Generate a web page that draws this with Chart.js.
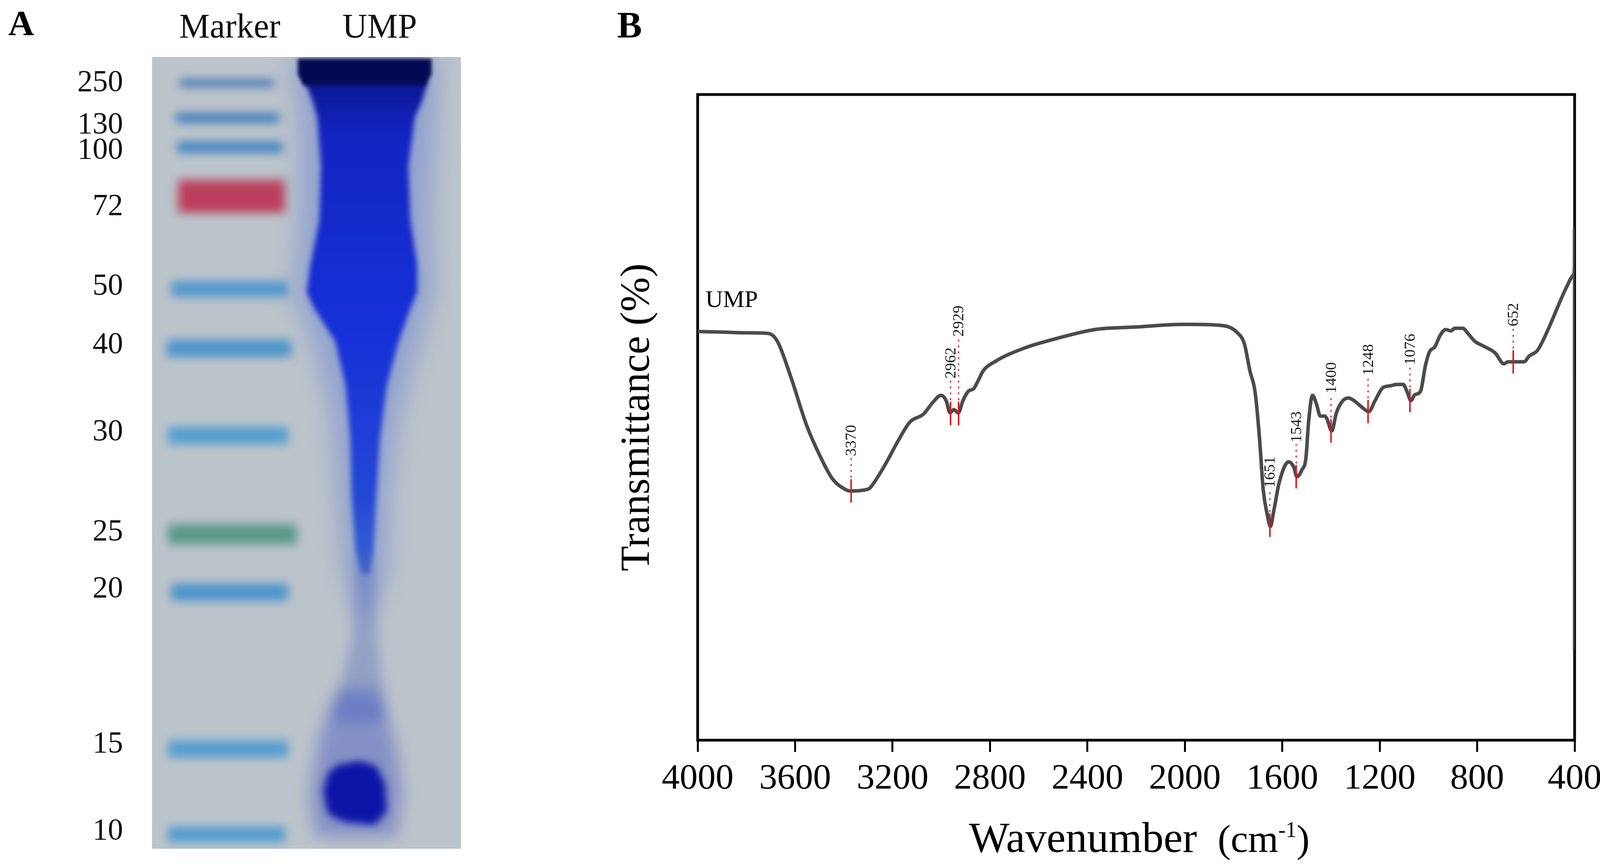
<!DOCTYPE html>
<html lang="en">
<head>
  <meta charset="UTF-8">
  <title>UMP - SDS-PAGE and FT-IR</title>
  <script src="https://cdn.jsdelivr.net/npm/chart.js@4.4.1/dist/chart.umd.min.js"></script>
  <style>
    html, body { margin: 0; padding: 0; background: #fff; }
    body { width: 4118px; height: 2212px; position: relative; overflow: hidden; }
    #gelBox { position: absolute; left: 0; top: 0; width: 1300px; height: 2212px; }
    #irBox { position: absolute; left: 1500px; top: 0; width: 2618px; height: 2212px; }
  </style>
</head>
<body>
  <div id="gelBox"><canvas id="gel"></canvas></div>
  <div id="irBox"><canvas id="ir"></canvas></div>

  <script>
    // ---- panel A: gel (x = lane position 0..100, y = migration 0..100 from the well) ----
    const laneLabels = ['Marker', 'UMP'];
    const laneCentres = [25.2, 73.7];
    const markerKDa = ['250', '130', '100', '72', '50', '40', '30', '25', '20', '15', '10'];
    const tickMigration = [3.3, 8.6, 11.8, 18.9, 29.0, 36.4, 47.4, 60.0, 67.2, 86.8, 97.8];
    const bandMigration = [3.3, 7.7, 11.4, 17.6, 29.3, 36.8, 47.8, 60.3, 67.6, 87.4, 98.2];
    const bandLeft = [9.0, 7.7, 8.2, 8.5, 6.2, 4.8, 5.2, 5.2, 6.2, 5.2, 5.2];
    const bandRight = [39.3, 41.2, 42.2, 43.0, 44.1, 45.1, 44.1, 46.9, 44.1, 44.1, 43.1];

    // UMP lane outlines, [lane position, migration]
    const umpHalo = [[45, 0], [93, 0], [92, 8], [90, 20], [91, 30], [86, 37], [80, 45], [77, 55], [76, 65],
      [72, 70], [66, 70], [62, 65], [60, 55], [58, 45], [53, 37], [46, 30], [48, 20], [48, 8]];
    const umpSmear = [[49.4, 3.0], [52.0, 5.6], [53.5, 7.6], [54.7, 13.7], [54.2, 20.6], [51.3, 26.2], [50.1, 29.7],
      [52.6, 31.8], [59.3, 35.9], [62.7, 41.5], [64.3, 48.4], [64.6, 55.4], [65.9, 62.4], [67.8, 65.3],
      [70.3, 65.3], [71.7, 62.4], [72.6, 55.4], [73.7, 48.4], [76.0, 41.5], [79.8, 35.9], [83.6, 31.8],
      [85.8, 29.7], [85.8, 26.2], [83.6, 20.6], [83.0, 13.7], [85.1, 7.6], [87.4, 5.6], [89.3, 3.0]];
    const umpWell = [[47.2, 0.2], [90.5, 0.2], [90.5, 2.2], [88.5, 3.6], [49.0, 3.6], [47.2, 2.2]];
    const umpTrail = [[66.5, 63], [71.5, 63], [73, 74], [76, 84], [58, 84], [64.5, 74]];
    const umpBlobHalo = [[60, 80], [73, 80], [79, 87], [81, 93], [79, 98.5], [53, 98.5], [51, 93], [54, 86]];
    const umpBlob = [[60, 89.4], [67, 88.9], [72.5, 89.5], [75.5, 91.8], [76, 95.3], [72, 97.0], [62, 96.6],
      [57, 95.6], [55.4, 92.8], [57, 90.4]];

    // ---- panel B: FT-IR spectrum ----
    const sampleName = 'UMP';
    const xTickValues = [4000, 3600, 3200, 2800, 2400, 2000, 1600, 1200, 800, 400];
    const irWavenumber = [4000, 3897, 3800, 3711, 3673, 3618, 3553, 3500, 3447, 3392, 3373, 3299, 3274, 3221,
      3181, 3128, 3073, 3035, 3001, 2980, 2964, 2948, 2930, 2911, 2887, 2868, 2847, 2828, 2781, 2661, 2528,
      2369, 2196, 2010, 1973, 1842, 1787, 1755, 1733, 1712, 1694, 1678, 1662, 1649, 1635, 1612, 1574, 1553,
      1540, 1519, 1503, 1492, 1476, 1460, 1444, 1426, 1417, 1397, 1378, 1351, 1328, 1306, 1274, 1245, 1219,
      1187, 1154, 1131, 1104, 1088, 1072, 1056, 1033, 1012, 995, 974, 952, 929, 908, 892, 859, 838, 810, 772,
      727, 690, 673, 645, 608, 586, 552, 509, 466, 434, 405, 400.5, 400.2, 400];
    const irTransmittance = [63.3, 63.2, 63.1, 63.0, 61.8, 56.3, 48.8, 44.2, 40.5, 38.8, 38.6, 38.9, 40.0, 43.3,
      46.1, 49.3, 50.5, 52.3, 53.4, 52.6, 50.7, 51.2, 50.7, 52.6, 54.1, 54.4, 55.8, 57.2, 58.6, 60.7, 62.2,
      63.6, 64.0, 64.4, 64.4, 64.2, 63.2, 61.3, 57.2, 54.0, 47.0, 38.7, 35.0, 33.1, 35.5, 40.0, 43.1, 42.3,
      40.8, 41.9, 43.7, 49.3, 53.4, 52.1, 50.2, 50.2, 49.8, 47.9, 50.7, 52.6, 53.0, 52.6, 51.6, 50.9, 52.6,
      54.6, 54.9, 55.1, 55.1, 54.0, 52.6, 53.5, 54.0, 58.1, 60.2, 60.9, 62.7, 63.6, 63.4, 63.8, 63.8, 63.0,
      61.8, 61.0, 60.0, 58.3, 58.6, 58.6, 58.6, 59.5, 60.4, 63.6, 67.4, 70.1, 72.0, 73.4, 79.1, 14.1];
    const peakWavenumber = [3370, 2962, 2929, 1651, 1543, 1400, 1248, 1076, 652];
    const peakTransmittance = [38.6, 50.6, 50.6, 33.3, 40.8, 47.9, 50.9, 52.6, 58.6];
    const peakLabelLevel = [44.0, 56.0, 62.5, 39.1, 46.1, 53.7, 56.5, 58.1, 64.1];

    const SERIF = '"Liberation Serif", "Times New Roman", serif';
    Chart.defaults.font.family = SERIF;
    Chart.defaults.color = '#000';

    const bandColors = ['#2a64b0', '#3374bb', '#3f82c2', '#bb3f5d', '#4f97cc', '#4c95cb',
      '#549dd0', '#5a9a88', '#4b95cc', '#559dd0', '#539bcf'];
    const bandThickness = [16, 22, 28, 84, 40, 44, 44, 52, 44, 44, 40];

    const toPoints = (pairs) => pairs.map(([x, y]) => ({ x, y }));
    const shapeSet = (pairs, fill, blur) => ({
      data: toPoints(pairs), showLine: false, pointRadius: 0, shapeFill: fill, shapeBlur: blur
    });

    const gelDatasets = [
      shapeSet(umpHalo, 'rgba(70, 100, 215, 0.35)', 30),
      shapeSet(umpSmear, [[0, '#0b1690'], [0.1, '#1224c0'], [0.5, '#1630d8'], [0.85, '#2448d4'], [1, '#3a66d0']], 7),
      shapeSet(umpWell, '#040a52', 5),
      shapeSet(umpTrail, 'rgba(70, 95, 185, 0.35)', 16),
      shapeSet(umpBlobHalo, 'rgba(50, 70, 190, 0.4)', 20),
      shapeSet(umpBlob, '#0c14a8', 10)
    ];
    markerKDa.forEach((kda, i) => {
      gelDatasets.push({
        label: kda + ' kDa',
        data: [{ x: bandLeft[i], y: bandMigration[i] }, { x: bandRight[i], y: bandMigration[i] }],
        borderColor: bandColors[i],
        borderWidth: bandThickness[i],
        borderCapStyle: 'butt',
        pointRadius: 0,
        isBand: true
      });
    });

    const gelPaint = {
      id: 'gelPaint',
      beforeDatasetsDraw(chart) {
        const { ctx, chartArea: a } = chart;
        ctx.save();
        ctx.fillStyle = '#bcc4cb';
        ctx.fillRect(a.left, a.top, a.right - a.left, a.bottom - a.top);
        ctx.beginPath();
        ctx.rect(a.left, a.top, a.right - a.left, a.bottom - a.top);
        ctx.clip();
        chart.data.datasets.forEach((ds, i) => {
          if (!ds.shapeFill) return;
          const pts = chart.getDatasetMeta(i).data;
          let fill = ds.shapeFill;
          if (Array.isArray(fill)) {
            const ys = pts.map(p => p.y);
            const g = ctx.createLinearGradient(0, Math.min(...ys), 0, Math.max(...ys));
            fill.forEach(([o, c]) => g.addColorStop(o, c));
            fill = g;
          }
          ctx.save();
          ctx.filter = 'blur(' + ds.shapeBlur + 'px)';
          ctx.fillStyle = fill;
          ctx.beginPath();
          pts.forEach((p, k) => k ? ctx.lineTo(p.x, p.y) : ctx.moveTo(p.x, p.y));
          ctx.closePath();
          ctx.fill();
          ctx.restore();
        });
        ctx.restore();
      },
      beforeDatasetDraw(chart, args) {
        if (chart.data.datasets[args.index].isBand) {
          chart.ctx.save();
          chart.ctx.filter = 'blur(12px)';
        }
      },
      afterDatasetDraw(chart, args) {
        if (chart.data.datasets[args.index].isBand) chart.ctx.restore();
      },
      afterDraw(chart) {
        const ctx = chart.ctx;
        ctx.save();
        ctx.fillStyle = '#000';
        ctx.font = 'bold 92px ' + SERIF;
        ctx.fillText('A', 21, 90);
        ctx.restore();
      }
    };

    new Chart(document.getElementById('gel'), {
      type: 'line',
      data: { datasets: gelDatasets },
      options: {
        responsive: true,
        maintainAspectRatio: false,
        devicePixelRatio: 1,
        animation: false,
        events: [],
        layout: { padding: { top: 0, left: 0, right: 120, bottom: 39 } },
        plugins: { legend: { display: false }, tooltip: { enabled: false } },
        scales: {
          x: {
            type: 'linear', position: 'top', min: 0, max: 100,
            afterBuildTicks: (s) => { s.ticks = laneCentres.map(v => ({ value: v })); },
            afterFit: (s) => { s.height = 146; s.paddingLeft = 0; s.paddingRight = 0; },
            grid: { display: false, drawTicks: false },
            border: { display: false },
            ticks: {
              autoSkip: false, maxRotation: 0, padding: 20, color: '#111',
              font: { size: 88, family: SERIF },
              callback: (v, i) => laneLabels[i]
            }
          },
          y: {
            type: 'linear', reverse: true, min: 0, max: 100,
            afterBuildTicks: (s) => { s.ticks = tickMigration.map(v => ({ value: v })); },
            afterFit: (s) => { s.width = 389; s.paddingTop = 0; s.paddingBottom = 0; },
            grid: { display: false, drawTicks: false },
            border: { display: false },
            ticks: {
              autoSkip: false, padding: 74, color: '#111',
              font: { size: 78, family: SERIF },
              callback: (v, i) => markerKDa[i]
            }
          }
        }
      },
      plugins: [gelPaint]
    });

    // ---- panel B ----
    const irFrame = {
      id: 'irFrame',
      beforeDatasetsDraw(chart) {
        const { ctx, chartArea: a } = chart;
        ctx.save();
        ctx.strokeStyle = '#000';
        ctx.lineWidth = 7;
        ctx.strokeRect(a.left, a.top, a.right - a.left, a.bottom - a.top);
        ctx.restore();
      }
    };

    const peakMarks = {
      id: 'peakMarks',
      afterDatasetsDraw(chart) {
        const { ctx, scales: { x, y } } = chart;
        ctx.save();
        peakWavenumber.forEach((w, i) => {
          const px = x.getPixelForValue(w);
          const py = y.getPixelForValue(peakTransmittance[i]);
          const ly = y.getPixelForValue(peakLabelLevel[i]);
          ctx.strokeStyle = '#e0161c';
          ctx.setLineDash([]);
          ctx.lineWidth = 4;
          ctx.beginPath(); ctx.moveTo(px, py - 30); ctx.lineTo(px, py + 30); ctx.stroke();
          ctx.lineWidth = 3;
          ctx.setLineDash([5, 10]);
          ctx.beginPath(); ctx.moveTo(px, py - 34); ctx.lineTo(px, ly + 4); ctx.stroke();
          ctx.setLineDash([]);
          ctx.save();
          ctx.translate(px + 2, ly);
          ctx.rotate(-Math.PI / 2);
          ctx.font = '40px ' + SERIF;
          ctx.fillStyle = '#1a1a1a';
          ctx.textAlign = 'left';
          ctx.textBaseline = 'middle';
          ctx.fillText(String(w), 0, 0);
          ctx.restore();
        });
        ctx.restore();
      }
    };

    const irText = {
      id: 'irText',
      afterDraw(chart) {
        const { ctx, chartArea: a, scales: { x, y } } = chart;
        ctx.save();
        ctx.fillStyle = '#000';
        ctx.textBaseline = 'alphabetic';
        ctx.textAlign = 'left';
        ctx.font = 'bold 95px ' + SERIF;
        ctx.fillText('B', 80, 96);
        ctx.font = '62px ' + SERIF;
        ctx.fillText(sampleName, x.getPixelForValue(3968), y.getPixelForValue(67.1));

        // x axis title: Wavenumber  (cm-1) with a raised -1
        const parts = [
          { t: 'Wavenumber', f: '110px ' + SERIF, dy: 0 },
          { t: '  ', f: '106px ' + SERIF, dy: 0 },
          { t: '(cm', f: '100px ' + SERIF, dy: 0 },
          { t: '-1', f: '56px ' + SERIF, dy: -38 },
          { t: ')', f: '100px ' + SERIF, dy: 0 }
        ];
        let total = 0;
        parts.forEach(p => { ctx.font = p.f; p.w = ctx.measureText(p.t).width; total += p.w; });
        let cx = (a.left + a.right) / 2 + 8 - total / 2;
        const base = a.bottom + 286;
        parts.forEach(p => { ctx.font = p.f; ctx.fillText(p.t, cx, base + p.dy); cx += p.w; });
        ctx.restore();
      }
    };

    new Chart(document.getElementById('ir'), {
      type: 'line',
      data: {
        datasets: [{
          label: sampleName,
          data: irWavenumber.map((w, i) => ({ x: w, y: irTransmittance[i] })),
          borderColor: '#4b4b4b',
          borderWidth: 9,
          pointRadius: 0,
          cubicInterpolationMode: 'monotone',
          fill: false
        }]
      },
      options: {
        responsive: true,
        maintainAspectRatio: false,
        devicePixelRatio: 1,
        animation: false,
        events: [],
        layout: { padding: { top: 242, left: 0, right: 87, bottom: 0 } },
        plugins: { legend: { display: false }, tooltip: { enabled: false } },
        scales: {
          x: {
            type: 'linear', reverse: true, min: 400, max: 4000,
            afterBuildTicks: (s) => { s.ticks = xTickValues.map(v => ({ value: v })); },
            afterFit: (s) => { s.height = 317; s.paddingLeft = 0; s.paddingRight = 0; },
            grid: { display: true, drawOnChartArea: false, drawTicks: true, tickLength: 30, lineWidth: 5, color: '#000' },
            border: { display: false },
            ticks: {
              autoSkip: false, maxRotation: 0, padding: 15, color: '#000',
              font: { size: 92, family: SERIF },
              callback: (v) => String(v)
            }
          },
          y: {
            type: 'linear', min: 0, max: 100,
            afterFit: (s) => { s.width = 286; s.paddingTop = 0; s.paddingBottom = 0; },
            grid: { display: false, drawTicks: false },
            border: { display: false },
            ticks: { display: false },
            title: {
              display: true, text: 'Transmittance (%)', color: '#000',
              font: { size: 106, family: SERIF },
              padding: { top: 70, bottom: 0 }
            }
          }
        }
      },
      plugins: [irFrame, peakMarks, irText]
    });
  </script>
</body>
</html>
